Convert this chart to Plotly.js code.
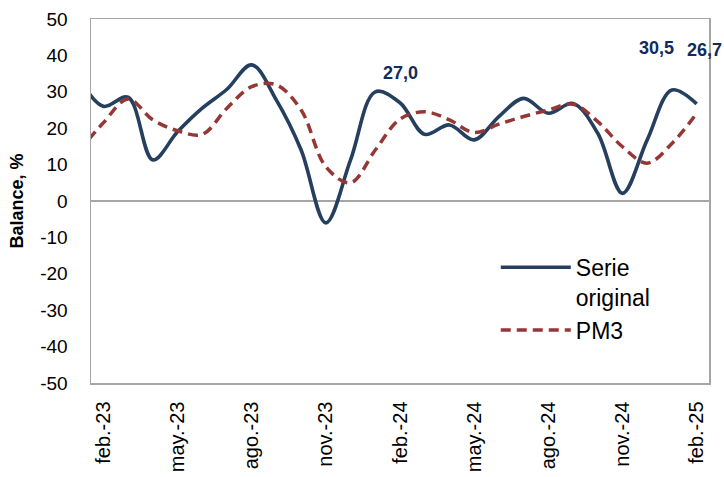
<!DOCTYPE html>
<html>
<head>
<meta charset="utf-8">
<script src="https://cdn.plot.ly/plotly-3.0.1.min.js"></script>
<style>html,body{margin:0;padding:0;background:#fff;}#chart{width:724px;height:477px;}</style>
</head>
<body>
<div id="chart"></div>
<script>
// Months (index 0 = ene.-23, partly outside the visible range)
const months = ['ene.-23','feb.-23','mar.-23','abr.-23','may.-23','jun.-23','jul.-23','ago.-23','sep.-23','oct.-23','nov.-23','dic.-23',
                'ene.-24','feb.-24','mar.-24','abr.-24','may.-24','jun.-24','jul.-24','ago.-24','sep.-24','oct.-24','nov.-24','dic.-24',
                'ene.-25','feb.-25'];
const serieOriginal = [34, 26, 28.5, 11.3, 19, 25.5, 30.7, 37.4, 27.7, 14, -6, 11.3,
                       30, 27.0, 18.3, 20.9, 16.8, 23.2, 28.2, 24.1, 26.8, 18.6, 2.1, 16.8,
                       30.5, 26.7];
const pm3 = [13.5, 21.5, 28, 22.3, 19.3, 18.3, 25.5, 31.4, 31.9, 25, 9.4, 5,
             14, 22.5, 24.5, 22.3, 18.8, 21.1, 23.2, 25.0, 26.6, 21.8, 14.9, 10.4,
             15.8, 24.1];
const shownTicks = ['feb.-23','may.-23','ago.-23','nov.-23','feb.-24','may.-24','ago.-24','nov.-24','feb.-25'];
const yTicks = [50, 40, 30, 20, 10, 0, -10, -20, -30, -40, -50];
const labelled = [
  {month: 'feb.-24', text: '27,0'},
  {month: 'ene.-25', text: '30,5'},
  {month: 'feb.-25', text: '26,7'}
];

const xIdx = months.map((m, i) => i);
const tickvals = shownTicks.map(t => months.indexOf(t));

const traces = [
  {x: xIdx, y: serieOriginal, name: 'Serie<br>original', type: 'scatter', mode: 'lines',
   line: {color: '#253f5f', width: 3.6, shape: 'spline', smoothing: 1}},
  {x: xIdx, y: pm3, name: 'PM3', type: 'scatter', mode: 'lines',
   line: {color: '#953735', width: 3.5, shape: 'spline', smoothing: 1, dash: '10px,6px'}}
];

const shifts = {'feb.-24': [0, 30], 'ene.-25': [-15, 42], 'feb.-25': [8, 54]};
const annotations = labelled.map(a => {
  const i = months.indexOf(a.month);
  const s = shifts[a.month];
  return {x: i, y: serieOriginal[i], xref: 'x', yref: 'y', text: a.text, showarrow: false,
          xshift: s[0], yshift: s[1],
          font: {family: 'Liberation Sans, Arial, sans-serif', size: 18, color: '#112b5c', weight: 'bold'}};
});

const layout = {
  width: 724, height: 477,
  margin: {l: 91, r: 15, t: 19, b: 94},
  paper_bgcolor: '#fff', plot_bgcolor: '#fff',
  font: {family: 'Liberation Sans, Arial, sans-serif', color: '#000'},
  showlegend: true,
  legend: {x: 0.655, y: 0.377, xanchor: 'left', yanchor: 'top', bgcolor: 'rgba(0,0,0,0)',
           font: {size: 23, color: '#000'}, itemwidth: 70, tracegroupgap: 0, valign: 'top'},
  xaxis: {range: [0.5, 25.5], tickmode: 'array', tickvals: tickvals, ticktext: shownTicks,
          tickangle: -90, tickfont: {size: 20}, showgrid: false, zeroline: false,
          showline: true, linecolor: '#a6a6a6', linewidth: 1.5, mirror: true, ticks: '',
          ticklabelstandoff: 9},
  yaxis: {range: [-50, 50], tickmode: 'array', tickvals: yTicks, ticktext: yTicks.map(String),
          tickfont: {size: 19}, showgrid: false,
          zeroline: true, zerolinecolor: '#a6a6a6', zerolinewidth: 1.5,
          showline: true, linecolor: '#a6a6a6', linewidth: 1.5, mirror: true, ticks: '',
          ticklabelstandoff: 18,
          title: {text: 'Balance, %', font: {size: 18, weight: 'bold'}, standoff: 12}},
  annotations: annotations
};

Plotly.newPlot('chart', traces, layout, {displayModeBar: false, staticPlot: true});
</script>
</body>
</html>
